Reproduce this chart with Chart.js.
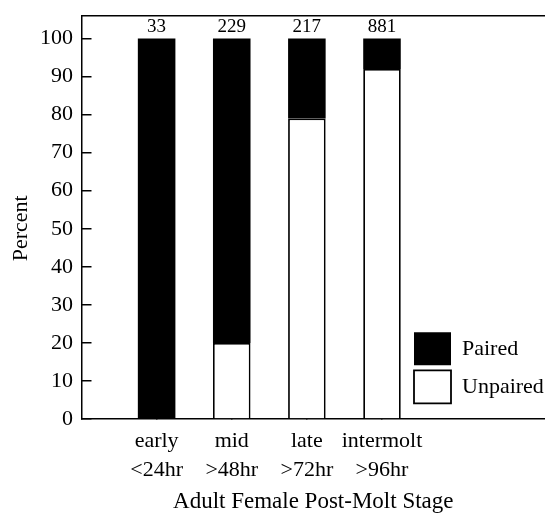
<!DOCTYPE html>
<html lang="en">
<head>
  <meta charset="UTF-8">
  <title>Adult Female Post-Molt Stage</title>
  <script src="https://cdn.jsdelivr.net/npm/chart.js"></script>
  <style>
    html, body { margin: 0; padding: 0; background: #fff; overflow: hidden; }
  </style>
</head>
<body>
  <canvas id="graph" width="545" height="516"></canvas>

  <script>
    // Datos
    const stages = [["early", "<24hr"], ["mid", ">48hr"], ["late", ">72hr"], ["intermolt", ">96hr"]];
    const stagePositions = [1, 2, 3, 4];
    const unpairedPct = [0, 20, 79, 92];
    const pairedPct = [100, 80, 21, 8];
    const sampleSizes = [33, 229, 217, 881];
    const yTickValues = [0, 10, 20, 30, 40, 50, 60, 70, 80, 90, 100];

    const serif = "'Liberation Serif', 'Times New Roman', serif";
    const xMin = 0, xMax = 6.17;

    // Puntos {x, y} para el eje lineal
    function toPoints(values) {
      return values.map((v, i) => ({ x: stagePositions[i], y: v }));
    }

    // Números de muestra encima de cada barra
    const sampleLabels = {
      id: "sampleLabels",
      afterDatasetsDraw(chart) {
        const meta = chart.getDatasetMeta(1);
        const ctx = chart.ctx;
        ctx.save();
        ctx.font = "19px " + serif;
        ctx.fillStyle = "#000";
        ctx.textAlign = "center";
        ctx.textBaseline = "middle";
        meta.data.forEach((bar, i) => {
          ctx.fillText(String(sampleSizes[i]), bar.x, bar.y - 11.5);
        });
        ctx.restore();
      }
    };

    // Mover la leyenda dentro del área del gráfico
    const legendInside = {
      id: "legendInside",
      afterLayout(chart) {
        const lg = chart.legend;
        if (!lg) return;
        lg.left = 409;
        lg.right = chart.chartArea.right;
        lg.top = 327.3;
        lg.bottom = chart.chartArea.bottom;
        lg.adjustHitBoxes();
      }
    };

    const ctx = document.getElementById("graph").getContext("2d");
    window.chart = new Chart(ctx, {
      type: "bar",
      data: {
        datasets: [
          {
            label: "Unpaired",
            data: toPoints(unpairedPct),
            backgroundColor: "#fff",
            borderColor: "#000",
            borderWidth: 1.8,
            stack: "s",
          },
          {
            label: "Paired",
            data: toPoints(pairedPct),
            backgroundColor: "#000",
            borderColor: "#000",
            borderWidth: 0,
            stack: "s",
          },
        ],
      },
      options: {
        responsive: false,
        animation: false,
        layout: { padding: { top: 15.7, left: 0, right: 0, bottom: 0 } },
        datasets: {
          bar: { barPercentage: 0.5, categoryPercentage: 1 },
        },
        plugins: {
          tooltip: { enabled: false },
          title: { display: false },
          legend: {
            position: "chartArea",
            align: "start",
            reverse: true,
            labels: {
              boxWidth: 37,
              boxHeight: 33,
              padding: 5,
              color: "#000",
              font: { family: serif, size: 22 },
            },
          },
        },
        scales: {
          x: {
            type: "linear",
            min: xMin,
            max: xMax,
            offset: false,
            stacked: true,
            afterBuildTicks: (s) => { s.ticks = stagePositions.map(v => ({ value: v })); },
            afterFit: (s) => { s.height = 97; s.paddingLeft = 0; s.paddingRight = 0; },
            grid: { offset: false, drawOnChartArea: false, drawTicks: true, tickLength: -8, color: "#000", lineWidth: 1.5 },
            border: { display: true, color: "#000", width: 1.5 },
            ticks: {
              autoSkip: false,
              maxRotation: 0,
              padding: 16.3,
              color: "#000",
              font: { family: serif, size: 22, lineHeight: "28.7px" },
              callback: (value) => stages[stagePositions.indexOf(value)] || "",
            },
            title: {
              display: true,
              text: "Adult Female Post-Molt Stage",
              color: "#000",
              font: { family: serif, size: 23 },
              padding: { top: 0, bottom: 0 },
            },
          },
          xTop: {
            type: "linear",
            position: "top",
            min: xMin,
            max: xMax,
            offset: false,
            afterFit: (s) => { s.height = 0; },
            grid: { display: false, drawTicks: false },
            ticks: { display: false },
            border: { display: true, color: "#000", width: 1.5 },
          },
          y: {
            min: 0,
            max: 106,
            stacked: true,
            afterBuildTicks: (s) => { s.ticks = yTickValues.map(v => ({ value: v })); },
            afterFit: (s) => { s.width = 81.5; s.paddingTop = 0; s.paddingBottom = 0; },
            grid: { drawOnChartArea: false, drawTicks: true, tickLength: -10, color: "#000", lineWidth: 1.5 },
            border: { display: true, color: "#000", width: 1.5 },
            ticks: {
              padding: 18.5,
              color: "#000",
              font: { family: serif, size: 22 },
            },
            title: {
              display: true,
              // espacios al final para bajar el texto como en el original
              text: "Percent    ",
              color: "#000",
              font: { family: serif, size: 22 },
              padding: { top: 8, bottom: 0 },
            },
          },
        },
      },
      plugins: [sampleLabels, legendInside],
    });
  </script>
</body>
</html>
